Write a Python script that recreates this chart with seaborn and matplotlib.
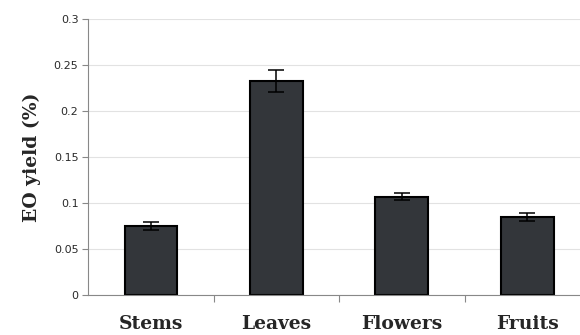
import numpy as np
import pandas as pd
import matplotlib
matplotlib.use("Agg")
import matplotlib.pyplot as plt
import seaborn as sns

# data
parts = ["Stems", "Leaves", "Flowers", "Fruits"]
yield_pct = [0.075, 0.233, 0.107, 0.085]
yield_err = [0.004, 0.012, 0.004, 0.004]

df = pd.DataFrame({"part": parts, "yield": yield_pct, "err": yield_err})

sns.set_style("white", {"xtick.bottom": True, "ytick.left": True})
plt.rcParams['font.family'] = ['DejaVu Sans']

fig = plt.figure(figsize=(5.8, 3.35), dpi=100)
ax = fig.add_axes([0.152, 0.119, 0.848, 0.824])

sns.barplot(data=df, x="part", y="yield", color="#33363a", width=0.42,
            edgecolor="black", linewidth=1.5, saturation=1, ax=ax, errorbar=None)
ax.errorbar(np.arange(len(parts)), df["yield"], yerr=df["err"], fmt="none",
            ecolor="black", elinewidth=1.1, capsize=6, capthick=1.1)

ax.set_ylim(0, 0.3)
ax.set_xlim(-0.5, 3.42)
ax.set_yticks([0, 0.05, 0.1, 0.15, 0.2, 0.25, 0.3])
ax.set_yticklabels(["0", "0.05", "0.1", "0.15", "0.2", "0.25", "0.3"],
                   fontsize=8, color="#2a2a2a")
ax.yaxis.grid(True, color="#e2e2e2", linewidth=0.8)
ax.set_axisbelow(True)

# category labels, ticks between categories
ax.set_xticks(np.arange(len(parts)))
ax.set_xticklabels(parts, fontsize=13.5, fontweight="bold", family="DejaVu Serif")
ax.tick_params(axis="x", which="major", bottom=False, length=0, pad=14)
ax.set_xticks([0.5, 1.5, 2.5], minor=True)
ax.tick_params(axis="x", which="minor", bottom=True, direction="out",
               length=5, color="#888888", width=0.8)
ax.tick_params(axis="y", which="major", left=True, direction="out",
               length=4, color="#888888", width=0.8, pad=3)

ax.set_xlabel("")
ax.set_ylabel("EO yield (%)", fontsize=13.5, fontweight="bold", family="DejaVu Serif",
              labelpad=9)

for s in ["top", "right"]:
    ax.spines[s].set_visible(False)
for s in ["left", "bottom"]:
    ax.spines[s].set_color("#888888")
    ax.spines[s].set_linewidth(0.8)

fig.savefig("out.png", dpi=100)
